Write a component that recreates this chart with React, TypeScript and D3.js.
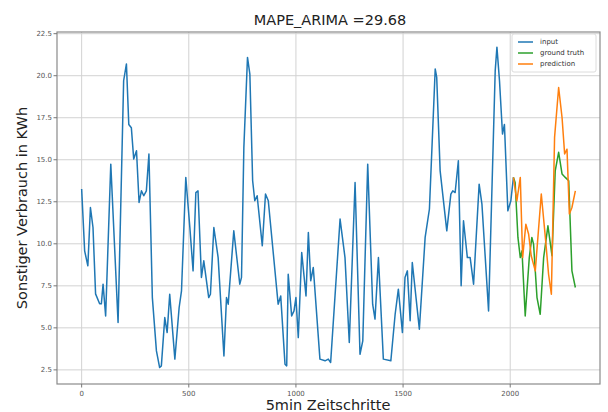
import React from "react";
import * as d3 from "d3";

// input series (5min steps, KWh)
const inputSteps = [0, 14, 29, 41, 53, 65, 84, 92, 100, 112, 136, 170, 196, 209, 220, 232, 243, 256, 268, 279, 290, 302, 314, 330, 349, 364, 372, 388, 399, 411, 435, 455, 466, 486, 505, 520, 533, 543, 559, 570, 593, 601, 617, 637, 664, 676, 684, 710, 738, 746, 757, 774, 785, 798, 808, 819, 843, 858, 871, 917, 929, 949, 957, 964, 980, 991, 1000, 1011, 1027, 1047, 1058, 1069, 1081, 1112, 1136, 1151, 1162, 1206, 1229, 1249, 1276, 1299, 1312, 1335, 1358, 1369, 1385, 1408, 1443, 1463, 1478, 1497, 1509, 1520, 1533, 1543, 1576, 1603, 1623, 1650, 1657, 1673, 1704, 1723, 1732, 1743, 1758, 1771, 1782, 1800, 1813, 1829, 1855, 1868, 1899, 1930, 1938, 1950, 1964, 1973, 1989, 2003, 2015];
const inputValues = [13.26, 9.58, 8.69, 12.16, 10.97, 7.02, 6.43, 6.43, 7.6, 5.71, 14.74, 5.32, 19.7, 20.7, 17.1, 16.9, 15.04, 15.54, 12.46, 13.15, 12.86, 13.15, 15.34, 6.8, 3.63, 2.64, 2.74, 5.61, 4.72, 7.0, 3.14, 6.21, 7.2, 13.95, 10.97, 8.39, 13.05, 13.15, 8.0, 8.99, 6.8, 7.0, 10.97, 9.18, 3.33, 6.8, 6.41, 10.77, 7.6, 8.0, 15.73, 21.09, 20.1, 13.75, 12.56, 12.86, 9.88, 12.96, 12.56, 6.41, 6.9, 2.84, 2.74, 8.19, 5.71, 6.01, 6.8, 4.42, 9.48, 6.9, 10.67, 7.8, 8.59, 3.14, 3.04, 3.14, 2.94, 11.47, 9.18, 4.13, 13.65, 3.43, 4.23, 14.74, 6.41, 5.52, 9.18, 3.14, 3.04, 5.81, 7.3, 4.72, 8.0, 8.39, 5.42, 8.89, 4.92, 10.38, 12.07, 20.4, 19.9, 14.34, 10.77, 12.96, 13.15, 13.05, 14.94, 7.5, 11.37, 9.18, 9.18, 7.6, 13.55, 12.36, 6.01, 20.3, 21.7, 19.7, 16.53, 17.1, 11.96, 12.56, 13.95];

// ground truth
const truthSteps = [2015, 2023, 2036, 2047, 2055, 2070, 2089, 2101, 2109, 2125, 2140, 2156, 2176, 2195, 2210, 2226, 2242, 2257, 2273, 2288, 2304];
const truthValues = [13.95, 13.65, 10.38, 9.18, 9.58, 5.71, 9.18, 10.38, 9.98, 6.8, 5.81, 9.18, 11.07, 9.29, 14.34, 15.44, 14.15, 13.95, 13.75, 8.39, 7.4];

// ARIMA prediction
const predSteps = [2015, 2031, 2047, 2058, 2073, 2086, 2098, 2117, 2145, 2164, 2179, 2192, 2207, 2226, 2242, 2254, 2265, 2276, 2288, 2304];
const predValues = [13.95, 12.56, 13.95, 9.18, 11.17, 10.57, 9.29, 8.39, 12.96, 10.38, 8.19, 7.0, 16.33, 19.3, 17.5, 15.34, 15.63, 11.77, 12.16, 13.15];

const xTicks = [0, 500, 1000, 1500, 2000];
const yTicks = [2.5, 5.0, 7.5, 10.0, 12.5, 15.0, 17.5, 20.0, 22.5];

const series = [
  { name: "input", color: "#1f77b4", steps: inputSteps, values: inputValues },
  { name: "ground truth", color: "#2ca02c", steps: truthSteps, values: truthValues },
  { name: "prediction", color: "#ff7f0e", steps: predSteps, values: predValues },
];

const W = 608, H = 412;
const left = 57, right = 600, top = 32, bottom = 384;
const font = "'DejaVu Sans', sans-serif";

export default function App() {
  const x = d3.scaleLinear().domain([-115, 2419]).range([left, right]);
  const y = d3.scaleLinear().domain([1.66, 22.6]).range([bottom, top]);
  const line = d3
    .line<[number, number]>()
    .x((d) => x(d[0]))
    .y((d) => y(d[1]));

  return (
    <svg
      width={W}
      height={H}
      style={{ position: "absolute", left: 0, top: 0, background: "#fff" }}
      fontFamily={font}
    >
      {/* grid */}
      {yTicks.map((t) => (
        <line key={"gy" + t} x1={left} x2={right} y1={y(t)} y2={y(t)} stroke="#d2d2d2" strokeWidth={1} />
      ))}
      {xTicks.map((t) => (
        <line key={"gx" + t} x1={x(t)} x2={x(t)} y1={top} y2={bottom} stroke="#d2d2d2" strokeWidth={1} />
      ))}

      {series.map((s) => (
        <path
          key={s.name}
          d={line(s.steps.map((st, i) => [st, s.values[i]] as [number, number])) || ""}
          fill="none"
          stroke={s.color}
          strokeWidth={1.5}
          strokeLinejoin="round"
        />
      ))}

      {/* frame */}
      <rect x={left} y={top} width={right - left} height={bottom - top} fill="none" stroke="#8a8a8a" strokeWidth={1.2} />

      {/* y axis */}
      {yTicks.map((t) => (
        <g key={"ty" + t}>
          <line x1={left - 3.5} x2={left} y1={y(t)} y2={y(t)} stroke="#777" />
          <text x={left - 5} y={y(t)} dy="0.35em" textAnchor="end" fontSize={7} fill="#555">
            {t.toFixed(1)}
          </text>
        </g>
      ))}
      {/* x axis */}
      {xTicks.map((t) => (
        <g key={"tx" + t}>
          <line x1={x(t)} x2={x(t)} y1={bottom} y2={bottom + 3.5} stroke="#777" />
          <text x={x(t)} y={bottom + 12} textAnchor="middle" fontSize={7} fill="#555">
            {t}
          </text>
        </g>
      ))}

      <text x={330} y={25} textAnchor="middle" fontSize={14.5} fill="#222">
        MAPE_ARIMA =29.68
      </text>
      <text x={328} y={410} textAnchor="middle" fontSize={14.5} fill="#222">
        5min Zeitschritte
      </text>
      <text
        transform={`translate(27,${(top + bottom) / 2}) rotate(-90)`}
        textAnchor="middle"
        fontSize={14.5}
        fill="#222"
      >
        Sonstiger Verbrauch in KWh
      </text>

      {/* legend */}
      <rect x={512} y={34} width={84} height={38} rx={2} fill="#fff" fillOpacity={0.8} stroke="#dcdcdc" />
      {series.map((s, i) => (
        <g key={"lg" + s.name}>
          <line x1={518} x2={533} y1={42 + i * 11} y2={42 + i * 11} stroke={s.color} strokeWidth={1.5} />
          <text x={540} y={42 + i * 11} dy="0.35em" fontSize={7} fill="#333">
            {s.name}
          </text>
        </g>
      ))}
    </svg>
  );
}
